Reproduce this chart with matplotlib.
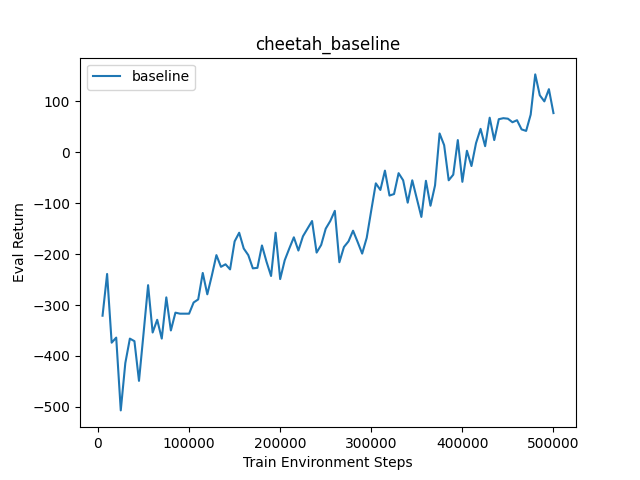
import matplotlib
matplotlib.use("Agg")
import matplotlib.pyplot as plt

# eval every 5000 env steps
steps = list(range(5000, 500001, 5000))
returns = [
    -321, -239, -374, -364, -507, -414, -366, -371, -449, -356,
    -261, -354, -329, -366, -285, -350, -315, -317, -317, -317,
    -295, -289, -237, -279, -242, -202, -225, -220, -230, -175,
    -158, -189, -202, -228, -227, -183, -215, -243, -158, -249,
    -212, -189, -167, -193, -165, -150, -135, -197, -182, -150,
    -135, -115, -216, -186, -175, -154, -176, -199, -168, -114,
    -61, -74, -36, -85, -82, -41, -55, -99, -55, -91,
    -127, -56, -105, -65, 37, 14, -55, -44, 24, -58,
    3, -27, 18, 46, 12, 68, 24, 65, 67, 66,
    59, 63, 45, 42, 74, 153, 112, 100, 124, 77,
]

fig = plt.figure(figsize=(6.4, 4.8), dpi=100)
plt.plot(steps, returns, label="baseline")
plt.title("cheetah_baseline")
plt.xlabel("Train Environment Steps")
plt.ylabel("Eval Return")
plt.legend(loc="upper left")
plt.savefig("out.png")
